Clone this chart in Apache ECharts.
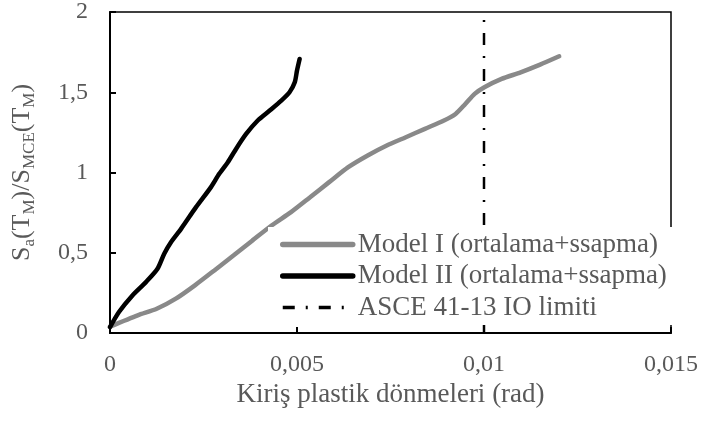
<!DOCTYPE html>
<html>
<head>
<meta charset="utf-8">
<script src="https://cdn.jsdelivr.net/npm/echarts@6/dist/echarts.min.js"></script>
<style>html,body{margin:0;padding:0;background:#fff;}#c{width:704px;height:425px;}</style>
</head>
<body>
<div id="c"></div>
<script>
// Data
var model1X = [0, 0.00074, 0.00125, 0.00176, 0.00227, 0.00279, 0.0033, 0.00381, 0.00432, 0.00484, 0.00535, 0.00586, 0.00637, 0.00689, 0.0074, 0.00791, 0.00842, 0.00893, 0.00924, 0.0095, 0.00975, 0.01001, 0.01047, 0.01098, 0.0115, 0.01201];
var model1Y = [0.04, 0.11, 0.151, 0.214, 0.297, 0.39, 0.483, 0.577, 0.67, 0.753, 0.846, 0.94, 1.033, 1.106, 1.168, 1.22, 1.272, 1.324, 1.365, 1.427, 1.49, 1.531, 1.583, 1.624, 1.672, 1.724];
var model2X = [0, 0.00024, 0.0006, 0.00096, 0.00127, 0.00145, 0.00163, 0.0019, 0.0023, 0.0027, 0.00292, 0.00315, 0.00337, 0.00364, 0.00395, 0.00427, 0.00458, 0.0048, 0.00494, 0.005, 0.00507];
var model2Y = [0.037, 0.131, 0.234, 0.317, 0.40, 0.494, 0.566, 0.649, 0.784, 0.909, 0.992, 1.064, 1.147, 1.24, 1.324, 1.386, 1.448, 1.5, 1.562, 1.635, 1.707];
var limitX = [0.01, 0.01];
var limitY = [0, 2];
var seriesNames = ['Model I (ortalama+ssapma)', 'Model II (ortalama+ssapma)', 'ASCE 41-13 IO limiti'];
var xTicks = {min: 0, max: 0.015, interval: 0.005};
var yTicks = {min: 0, max: 2, interval: 0.5};

function zip(xs, ys) { return xs.map(function (x, i) { return [x, ys[i]]; }); }
function comma(v) { return String(+v.toFixed(6)).replace('.', ','); }

var FONT = 'Liberation Serif';
var TXT = '#595959';
var GRAY = '#898989';

var chart = echarts.init(document.getElementById('c'), null, {renderer: 'canvas'});
chart.setOption({
  animation: false,
  backgroundColor: '#fff',
  grid: {left: 110, right: 33, top: 12, bottom: 92, show: true, borderColor: '#000', borderWidth: 1.5, backgroundColor: 'transparent'},
  legend: {
    orient: 'vertical', left: 268, top: 227,
    padding: [4, 18, 4, 12], itemGap: 4.5, itemWidth: 70, itemHeight: 14,
    backgroundColor: '#fff', z: 10,
    itemStyle: {opacity: 0},
    textStyle: {fontFamily: FONT, fontSize: 27, color: TXT, lineHeight: 27},
    data: [
      {name: seriesNames[0], itemStyle: {opacity: 0}, lineStyle: {color: GRAY, width: 5.5, cap: 'round', type: 'solid'}},
      {name: seriesNames[1], itemStyle: {opacity: 0}, lineStyle: {color: '#000', width: 5.5, cap: 'round', type: 'solid'}},
      {name: seriesNames[2], itemStyle: {opacity: 0}, lineStyle: {color: '#000', width: 3.5, type: [12, 11, 2, 11]}}
    ]
  },
  xAxis: {
    type: 'value', min: xTicks.min, max: xTicks.max, interval: xTicks.interval,
    name: 'Kiriş plastik dönmeleri (rad)', nameLocation: 'middle', nameGap: 47,
    nameTextStyle: {fontFamily: FONT, fontSize: 27, color: TXT},
    axisLine: {show: true, lineStyle: {color: '#000', width: 2}},
    axisTick: {show: true, inside: true, length: 6, lineStyle: {color: '#000', width: 2}},
    axisLabel: {fontFamily: FONT, fontSize: 24, color: TXT, margin: 20, formatter: comma},
    splitLine: {show: false}
  },
  yAxis: {
    type: 'value', min: yTicks.min, max: yTicks.max, interval: yTicks.interval,
    name: '{m|S}{s|a}{m|(T}{s|M}{m|)/S}{s|MCE}{m|(T}{s|M}{m|)}',
    nameLocation: 'middle', nameRotate: 90, nameGap: 72,
    nameTextStyle: {
      fontFamily: FONT, color: TXT,
      rich: {
        m: {fontFamily: FONT, fontSize: 26, color: TXT, lineHeight: 32},
        s: {fontFamily: FONT, fontSize: 17, color: TXT, lineHeight: 14, verticalAlign: 'bottom'}
      }
    },
    axisLine: {show: true, lineStyle: {color: '#000', width: 2}},
    axisTick: {show: true, inside: true, length: 6, lineStyle: {color: '#000', width: 2}},
    axisLabel: {fontFamily: FONT, fontSize: 24, color: TXT, margin: 22, formatter: comma},
    splitLine: {show: false}
  },
  series: [
    {name: seriesNames[0], type: 'line', data: zip(model1X, model1Y), smooth: 0.25, symbol: 'none',
     lineStyle: {color: GRAY, width: 4.5, cap: 'round'}, itemStyle: {color: GRAY}, z: 2},
    {name: seriesNames[1], type: 'line', data: zip(model2X, model2Y), smooth: 0.25, symbol: 'none',
     lineStyle: {color: '#000', width: 4.5, cap: 'round'}, itemStyle: {color: '#000'}, z: 3},
    {name: seriesNames[2], type: 'line', data: zip(limitX, limitY), symbol: 'none',
     lineStyle: {color: '#000', width: 2.5, type: [12, 11, 2, 11]}, itemStyle: {color: '#000'}, z: 1}
  ]
});
</script>
</body>
</html>
